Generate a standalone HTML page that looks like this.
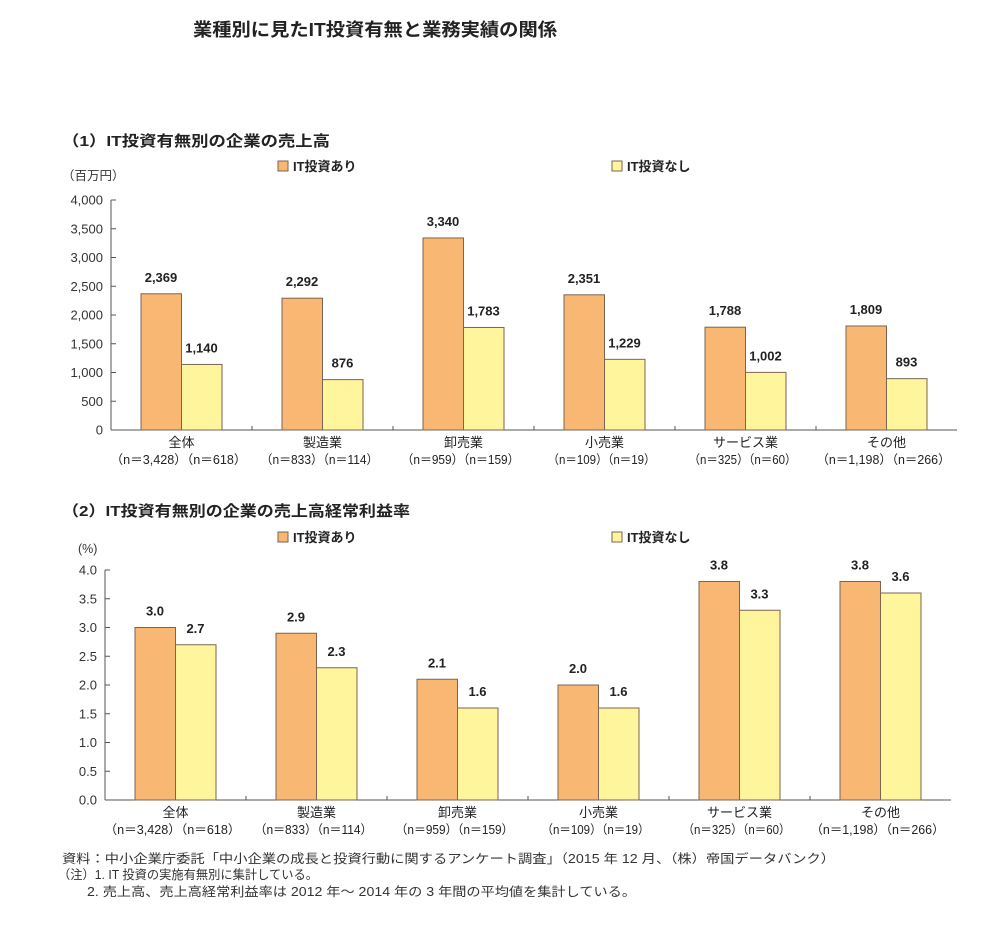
<!DOCTYPE html>
<html><head><meta charset="utf-8">
<style>
body{margin:0;background:#fff;}
svg{display:block;font-family:"Liberation Sans","Noto Sans CJK JP",sans-serif;}
</style></head>
<body>
<svg id="s" width="1000" height="936" viewBox="0 0 1000 936">
<text x="193" y="36" font-size="18" font-weight="bold" fill="#222" textLength="364" lengthAdjust="spacingAndGlyphs">業種別に見たIT投資有無と業務実績の関係</text>
<text x="62" y="146" font-size="15" font-weight="bold" fill="#222" textLength="268" lengthAdjust="spacingAndGlyphs">（1）IT投資有無別の企業の売上高</text>
<text x="62" y="516" font-size="15" font-weight="bold" fill="#222" textLength="348" lengthAdjust="spacingAndGlyphs">（2）IT投資有無別の企業の売上高経常利益率</text>
<text x="62" y="180" font-size="12.5" fill="#333">（百万円）</text>
<text x="78" y="553" font-size="12.5" fill="#333">(%)</text>
<g font-size="12.5" fill="#333">
<text x="62" y="863" textLength="773" lengthAdjust="spacingAndGlyphs">資料：中小企業庁委託「中小企業の成長と投資行動に関するアンケート調査」（2015 年 12 月、（株）帝国データバンク）</text>
<text x="58" y="879" textLength="260" lengthAdjust="spacingAndGlyphs">（注）1. IT 投資の実施有無別に集計している。</text>
<text x="87" y="896" textLength="549" lengthAdjust="spacingAndGlyphs">2. 売上高、売上高経常利益率は 2012 年～ 2014 年の 3 年間の平均値を集計している。</text>
</g>
</svg>
<script>
const categories=["全体","製造業","卸売業","小売業","サービス業","その他"];
const nLabels=["（n＝3,428）（n＝618）","（n＝833）（n＝114）","（n＝959）（n＝159）","（n＝109）（n＝19）","（n＝325）（n＝60）","（n＝1,198）（n＝266）"];
const nLens=[136,118,118,108,108,134];
const salesWith=[2369,2292,3340,2351,1788,1809];
const salesWithout=[1140,876,1783,1229,1002,893];
const salesTicks=[0,500,1000,1500,2000,2500,3000,3500,4000];
const rateWith=[3.0,2.9,2.1,2.0,3.8,3.8];
const rateWithout=[2.7,2.3,1.6,1.6,3.3,3.6];
const rateTicks=[0,0.5,1.0,1.5,2.0,2.5,3.0,3.5,4.0];
const seriesNames=["IT投資あり","IT投資なし"];
const svg=document.getElementById('s');
const NS="http://www.w3.org/2000/svg";
function mk(tag,attrs,parent){const e=document.createElementNS(NS,tag);for(const k in attrs)e.setAttribute(k,attrs[k]);(parent||svg).appendChild(e);return e;}
function chart(cfg){
  const g=mk('g',{});
  
  
  const y=v=>cfg.y0-(v-cfg.min)/(cfg.max-cfg.min)*(cfg.y0-cfg.y1);
  const gw=(cfg.xr-cfg.x0)/categories.length;
  const ax=mk('line',{x1:cfg.x0,y1:cfg.y1,x2:cfg.x0,y2:cfg.y0,stroke:'#555','stroke-width':1},g);
  
  const bx=mk('line',{x1:cfg.x0,y1:cfg.y0,x2:cfg.xr,y2:cfg.y0,stroke:'#555','stroke-width':1},g);
  
  cfg.ticks.forEach(t=>{
    const yy=y(t);
    mk('line',{x1:cfg.x0,y1:yy,x2:cfg.x0+5,y2:yy,stroke:'#555'},g);
    const tx=mk('text',{x:cfg.x0-8,y:yy+4.5,'text-anchor':'end','font-size':13,fill:'#333'},g);
    tx.textContent=cfg.fmt(t);
    
  });
  for(let i=1;i<categories.length;i++){mk('line',{x1:cfg.x0+gw*i,y1:cfg.y0,x2:cfg.x0+gw*i,y2:cfg.y0-4,stroke:'#555'},g);}
  categories.forEach((c,i)=>{
    const cx=cfg.x0+gw*i+gw/2;
    [[cfg.a,'#F8B874'],[cfg.b,'#FFF59C']].forEach((s,j)=>{
      const v=s[0][i];
      const x=j==0?cx-40.5:cx;
      const r=mk('rect',{x:x,y:y(v),width:40.5,height:cfg.y0-y(v),fill:s[1],stroke:'#7a6550','stroke-width':1},g);
      
      
      const lb=mk('text',{x:x+20,y:y(v)-12,'text-anchor':'middle','font-size':13,'font-weight':'bold',fill:'#222'},g);
      lb.textContent=cfg.lfmt(v);
      
    });
    const t1=mk('text',{x:cx,y:cfg.y0+17,'text-anchor':'middle','font-size':13,fill:'#222'},g);
    t1.textContent=c;
    
    const t2=mk('text',{x:cx-3-nLens[i]/2,y:cfg.y0+34,'font-size':12.5,fill:'#222',textLength:nLens[i],lengthAdjust:'spacingAndGlyphs'},g);
    t2.textContent=nLabels[i];
    
  });
  [[cfg.lx1,'#F8B874'],[cfg.lx2,'#FFF59C']].forEach((l,j)=>{
    const r=mk('rect',{x:l[0],y:cfg.ly-9,width:10,height:10,fill:l[1],stroke:'#7a6550'},g);
    
    const t=mk('text',{x:l[0]+15,y:cfg.ly+1,'font-size':13,'font-weight':'bold',fill:'#222'},g);
    t.textContent=seriesNames[j];
    
  });
}
chart({name:'sales-chart',x0:111,xr:957,y0:430,y1:200,min:0,max:4000,ticks:salesTicks,a:salesWith,b:salesWithout,
  fmt:t=>t.toLocaleString('en-US'),lfmt:v=>v.toLocaleString('en-US'),lx1:278,lx2:612,ly:170});
chart({name:'profit-rate-chart',x0:105,xr:951,y0:800,y1:570,min:0,max:4,ticks:rateTicks,a:rateWith,b:rateWithout,
  fmt:t=>t.toFixed(1),lfmt:v=>v.toFixed(1),lx1:278,lx2:612,ly:541});
</script>
</body></html>
